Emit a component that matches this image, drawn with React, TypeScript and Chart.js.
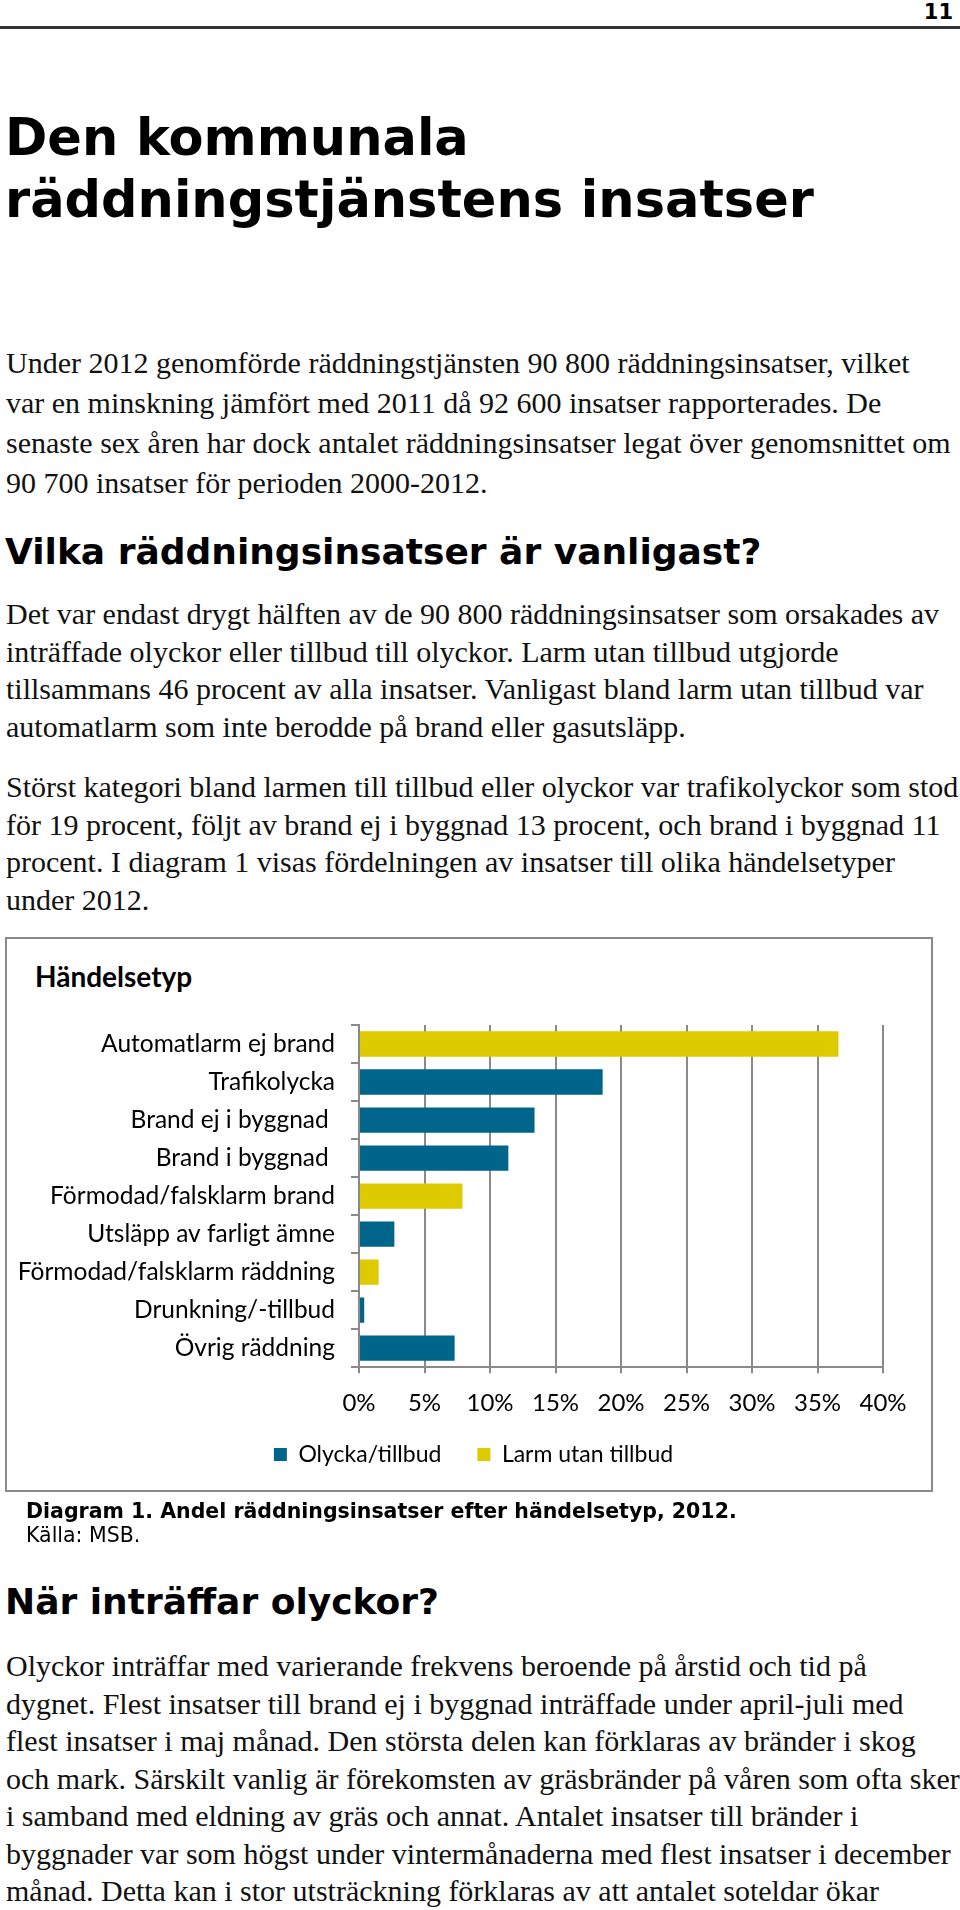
import React, { useEffect, useRef } from "react";
import { Chart, registerables } from "chart.js";

Chart.register(...registerables);

// ---------- Data ----------
const categories = [
  "Automatlarm ej brand",
  "Trafikolycka",
  "Brand ej i byggnad ",
  "Brand i byggnad ",
  "Förmodad/falsklarm brand",
  "Utsläpp av farligt ämne",
  "Förmodad/falsklarm räddning",
  "Drunkning/-tillbud",
  "Övrig räddning",
];
const olyckaValues: (number | null)[] = [null, 18.6, 13.4, 11.4, null, 2.7, null, 0.4, 7.3];
const larmValues: (number | null)[] = [36.6, null, null, null, 7.9, null, 1.5, null, null];
const seriesNames = ["Olycka/tillbud", "Larm utan tillbud"];
const xMin = 0;
const xMax = 40;
const xStep = 5;

const chartTitle = "Händelsetyp";
const pageNumber = "11";
const titleLines = ["Den kommunala", "räddningstjänstens insatser"];
const heading1 = "Vilka räddningsinsatser är vanligast?";
const heading2 = "När inträffar olyckor?";
const caption = "Diagram 1. Andel räddningsinsatser efter händelsetyp, 2012.";
const source = "Källa: MSB.";

const para1 = [
  "Under 2012 genomförde räddningstjänsten 90 800 räddningsinsatser, vilket",
  "var en minskning jämfört med 2011 då 92 600 insatser rapporterades. De",
  "senaste sex åren har dock antalet räddningsinsatser legat över genomsnittet om",
  "90 700 insatser för perioden 2000-2012.",
];
const para2 = [
  "Det var endast drygt hälften av de 90 800 räddningsinsatser som orsakades av",
  "inträffade olyckor eller tillbud till olyckor. Larm utan tillbud utgjorde",
  "tillsammans 46 procent av alla insatser. Vanligast bland larm utan tillbud var",
  "automatlarm som inte berodde på brand eller gasutsläpp.",
];
const para3 = [
  "Störst kategori bland larmen till tillbud eller olyckor var trafikolyckor som stod",
  "för 19 procent, följt av brand ej i byggnad 13 procent, och brand i byggnad 11",
  "procent. I diagram 1 visas fördelningen av insatser till olika händelsetyper",
  "under 2012.",
];
const para4 = [
  "Olyckor inträffar med varierande frekvens beroende på årstid och tid på",
  "dygnet. Flest insatser till brand ej i byggnad inträffade under april-juli med",
  "flest insatser i maj månad. Den största delen kan förklaras av bränder i skog",
  "och mark. Särskilt vanlig är förekomsten av gräsbränder på våren som ofta sker",
  "i samband med eldning av gräs och annat. Antalet insatser till bränder i",
  "byggnader var som högst under vintermånaderna med flest insatser i december",
  "månad. Detta kan i stor utsträckning förklaras av att antalet soteldar ökar",
];

// ---------- Styles ----------
const TEAL = "#00658A";
const YELLOW = "#DDCB00";
const GRID = "#8a8a8a";
const SANS = "'DejaVu Sans', Verdana, sans-serif";
const SERIF = "'Liberation Serif', 'Times New Roman', serif";
const CHART_FONT = "Lato, 'Open Sans', sans-serif";

const abs = (left: number, top: number, extra: React.CSSProperties = {}): React.CSSProperties => ({
  position: "absolute",
  left,
  top,
  whiteSpace: "nowrap",
  margin: 0,
  ...extra,
});

function Paragraph({ lines, top, lh }: { lines: string[]; top: number; lh: number }) {
  return (
    <div style={abs(6, top, { fontFamily: SERIF, fontSize: 30, lineHeight: lh + "px", color: "#111" })}>
      {lines.map((l, i) => (
        <div key={i}>{l}</div>
      ))}
    </div>
  );
}

// moves the legend so it sits centred under the whole chart box, like the original
const legendPlacement = {
  id: "legendPlacement",
  afterLayout(chart: any) {
    const lg = chart.legend;
    if (!lg) return;
    lg.left += 47;
    lg.top -= 27;
    lg.bottom -= 27;
  },
};

function BarChart() {
  const ref = useRef<HTMLCanvasElement | null>(null);
  useEffect(() => {
    if (!ref.current) return;
    const tickFont = { family: CHART_FONT, size: 24 };
    const chart = new Chart(ref.current, {
      type: "bar",
      data: {
        labels: categories,
        datasets: [
          {
            label: seriesNames[0],
            data: olyckaValues,
            backgroundColor: TEAL,
            barPercentage: 0.667,
            categoryPercentage: 1,
          },
          {
            label: seriesNames[1],
            data: larmValues,
            backgroundColor: YELLOW,
            barPercentage: 0.667,
            categoryPercentage: 1,
          },
        ],
      },
      options: {
        indexAxis: "y",
        animation: false,
        responsive: false,
        maintainAspectRatio: false,
        layout: { padding: { top: 25, left: 10, right: 48, bottom: 0 } },
        plugins: {
          legend: {
            position: "bottom",
            labels: {
              boxWidth: 13,
              boxHeight: 13,
              padding: 36,
              color: "#000",
              font: { family: CHART_FONT, size: 23 },
            },
          },
          title: { display: false },
          tooltip: { enabled: false },
        },
        scales: {
          x: {
            stacked: true,
            min: xMin,
            max: xMax,
            ticks: {
              stepSize: xStep,
              color: "#000",
              font: tickFont,
              padding: 16,
              callback: (v: any) => v + "%",
            },
            grid: { color: GRID, lineWidth: 2, tickLength: 6, drawTicks: true },
            border: { color: GRID, width: 2 },
          },
          y: {
            stacked: true,
            ticks: { color: "#000", font: { family: CHART_FONT, size: 24.5 }, padding: 16, autoSkip: false },
            grid: { drawOnChartArea: false, tickLength: 8, color: GRID, lineWidth: 2, offset: true },
            border: { color: GRID, width: 2 },
            afterFit: (s: any) => {
              s.width = 342;
              s.paddingTop = 0;
              s.paddingBottom = 0;
            },
          },
        },
      } as any,
      plugins: [legendPlacement],
    });
    return () => chart.destroy();
  }, []);
  return (
    <canvas
      ref={ref}
      width={924}
      height={503}
      style={{ position: "absolute", left: 7, top: 1000, width: 924, height: 503 }}
    />
  );
}

export default function App() {
  return (
    <div
      style={{
        position: "absolute",
        left: 0,
        top: 0,
        width: 960,
        height: 1910,
        background: "#fff",
        overflow: "hidden",
        color: "#000",
      }}
    >
      {/* header */}
      <div style={abs(0, 0, { width: 953, textAlign: "right", fontFamily: SANS, fontWeight: "bold", fontSize: 21, lineHeight: "24px" })}>
        {pageNumber}
      </div>
      <div style={{ position: "absolute", left: 0, top: 26, width: 960, height: 3, background: "#333" }} />

      {/* title */}
      <div style={abs(5, 107, { fontFamily: SANS, fontWeight: "bold", fontSize: 51, lineHeight: "62px" })}>
        {titleLines.map((l, i) => (
          <div key={i}>{l}</div>
        ))}
      </div>

      <Paragraph lines={para1} top={343} lh={40} />

      <div style={abs(5, 530, { fontFamily: SANS, fontWeight: "bold", fontSize: 36, lineHeight: "44px" })}>{heading1}</div>

      <Paragraph lines={para2} top={595} lh={37.5} />
      <Paragraph lines={para3} top={768} lh={37.5} />

      {/* chart box */}
      <div
        style={{
          position: "absolute",
          left: 5,
          top: 937,
          width: 924,
          height: 551,
          border: "2px solid #8a8a8a",
        }}
      />
      <div style={abs(35, 960, { fontFamily: CHART_FONT, fontWeight: "bold", fontSize: 28, lineHeight: "32px" })}>{chartTitle}</div>
      <BarChart />

      {/* caption */}
      <div style={abs(26, 1499, { fontFamily: SANS, fontSize: 20.5, lineHeight: "24px" })}>
        <div style={{ fontWeight: "bold" }}>{caption}</div>
        <div>{source}</div>
      </div>

      <div style={abs(5, 1580, { fontFamily: SANS, fontWeight: "bold", fontSize: 36, lineHeight: "44px" })}>{heading2}</div>

      <Paragraph lines={para4} top={1647} lh={37.5} />
    </div>
  );
}
